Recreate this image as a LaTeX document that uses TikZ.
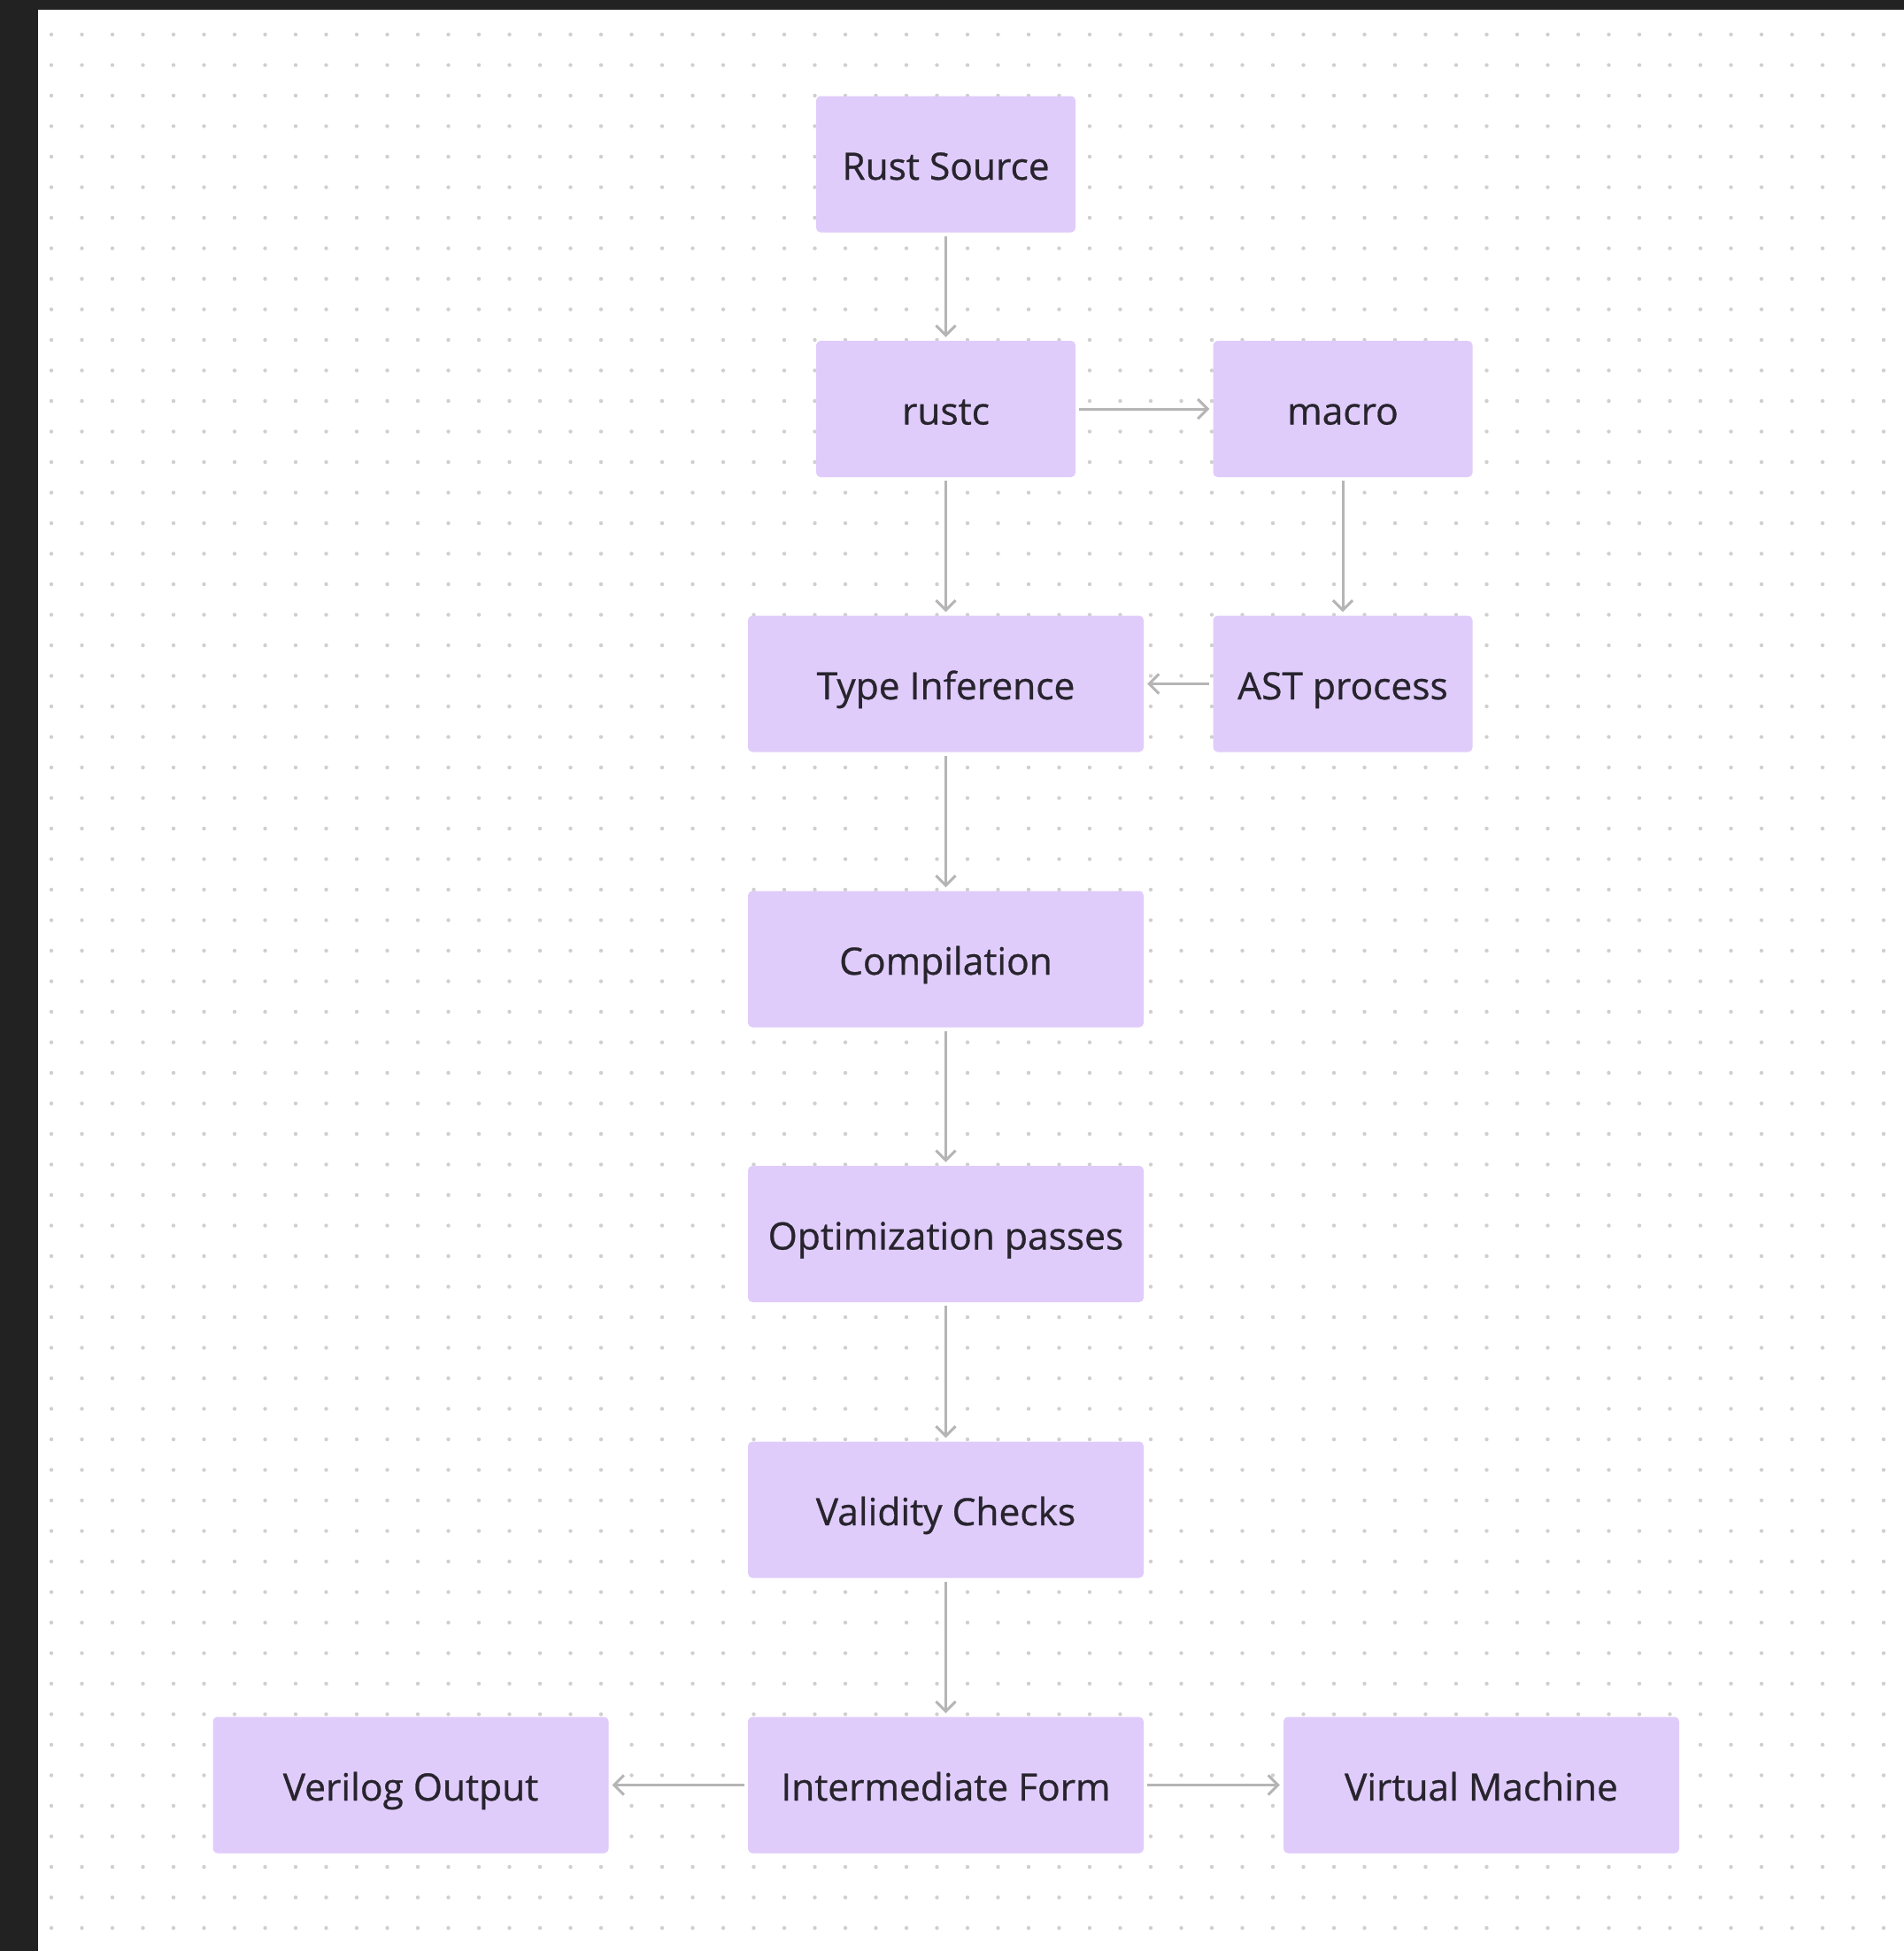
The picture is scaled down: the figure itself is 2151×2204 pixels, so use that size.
\documentclass[tikz,border=0pt]{standalone}
\usepackage{fontspec}
\setmainfont{Open Sans}
\newfontfamily\boxfont[FakeBold=0.7]{Open Sans}
\usetikzlibrary{arrows.meta}
\definecolor{boxfill}{HTML}{E0CCFA}
\definecolor{txt}{HTML}{27242E}
\definecolor{arr}{HTML}{B5B5B5}
\definecolor{dotc}{HTML}{CFCFCF}
\definecolor{frame}{HTML}{222222}
\tikzset{
  box/.style={draw=none, fill=boxfill, rounded corners=5pt, minimum height=154pt, text=txt, font=\boxfont\fontsize{42.5}{50}\selectfont, inner sep=0pt, text height=35pt, text depth=0pt},
  sbox/.style={box, minimum width=293pt},
  lbox/.style={box, minimum width=447pt},
  conn/.style={draw=arr, line width=3pt, shorten >=4pt, shorten <=4pt, -{Straight Barb[length=11pt,width=22pt,line width=3pt]}}
}
\begin{document}
\begin{tikzpicture}[x=1pt,y=-1pt]
\useasboundingbox (0,0) rectangle (2151,2204);
\fill[white] (0,0) rectangle (2151,2204);
\foreach \i in {0,...,60}{
  \foreach \j in {0,...,62}{
    \fill[dotc] ({58+34.5*\i},{39+34.5*\j}) circle (2.2pt);
  }
}
\fill[frame] (0,0) rectangle (2151,11);
\fill[frame] (0,0) rectangle (43,2204);

\node[sbox] (rs) at (1068.5,185.5) {Rust Source};
\node[sbox] (rustc) at (1068.5,462) {rustc};
\node[sbox] (macro) at (1517,462) {macro};
\node[lbox] (ti) at (1068.5,772.5) {Type Inference};
\node[sbox] (ast) at (1517,772.5) {AST process};
\node[lbox] (comp) at (1068.5,1083.5) {Compilation};
\node[lbox] (opt) at (1068.5,1394) {Optimization passes};
\node[lbox] (val) at (1068.5,1705.5) {Validity Checks};
\node[lbox] (inter) at (1068.5,2016.5) {Intermediate Form};
\node[lbox] (ver) at (464,2016.5) {Verilog Output};
\node[lbox] (vm) at (1673.5,2016.5) {Virtual Machine};

\draw[conn] (rs) -- (rustc);
\draw[conn] (rustc) -- (macro);
\draw[conn] (rustc) -- (ti);
\draw[conn] (macro) -- (ast);
\draw[conn] (ast) -- (ti);
\draw[conn] (ti) -- (comp);
\draw[conn] (comp) -- (opt);
\draw[conn] (opt) -- (val);
\draw[conn] (val) -- (inter);
\draw[conn] (inter) -- (ver);
\draw[conn] (inter) -- (vm);
\end{tikzpicture}
\end{document}
